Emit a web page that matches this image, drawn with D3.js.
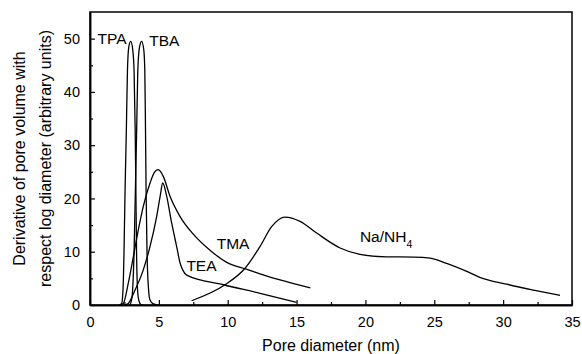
<!DOCTYPE html>
<html><head><meta charset="utf-8">
<script src="https://cdn.jsdelivr.net/npm/d3@7"></script>
<style>body{margin:0;background:#fff}svg{display:block;font-family:"Liberation Sans",Arial,sans-serif}</style>
</head><body><svg id="c" width="582" height="354"></svg>
<script>
const xTicks = [0,5,10,15,20,25,30,35];
const yTicks = [0,10,20,30,40,50];
const tpa = [[2.15,0],[2.3,0.3],[2.4,3],[2.47,10],[2.55,22],[2.64,33],[2.72,44],[2.82,48.5],[2.96,49.5],[3.1,48],[3.2,44],[3.28,33],[3.33,22],[3.38,10],[3.45,3],[3.55,0.8],[3.7,0.1],[3.85,0]];
const tba = [[2.85,0],[2.98,0.5],[3.1,3],[3.2,10],[3.3,22],[3.39,33],[3.47,44],[3.6,48.5],[3.75,49.5],[3.9,48],[3.98,44],[4.03,33],[4.07,22],[4.14,10],[4.25,3],[4.35,1],[4.6,0.2],[4.9,0]];
const tma = [[2.15,0],[2.42,0.3],[2.78,4.1],[3.15,9.1],[3.51,14.1],[3.87,18.5],[4.36,22.9],[4.7,25],[4.95,25.4],[5.33,24.1],[5.81,20.4],[6.54,16.6],[7.5,13.3],[8.8,10.1],[9.93,8.0],[11.4,6.7],[12.4,5.8],[13.8,4.7],[16.0,3.2]];
const tea = [[2.5,0],[2.78,0.3],[3.27,2.8],[3.87,6.6],[4.36,11.0],[4.84,16.6],[5.1,20.5],[5.28,22.9],[5.57,20.4],[5.93,15.4],[6.29,11.0],[6.55,7.8],[6.75,6.5],[7.02,5.6],[9.68,3.8],[12.35,2.2],[15.0,0.5]];
const nanh4 = [[7.38,0.8],[9.8,3.8],[11.26,6.9],[12.35,11.0],[13.19,14.7],[14.16,16.5],[15.25,15.7],[16.46,13.5],[18.16,10.7],[19.6,9.5],[21.5,9.05],[23.5,9.0],[24.7,8.8],[25.9,7.8],[27.36,6.3],[28.3,5.2],[30.26,3.9],[32.2,2.8],[34.13,1.8]];
const seriesLabels = [
  {t:"TPA", x:0.55, y:49.0},
  {t:"TBA", x:4.3, y:48.6},
  {t:"TMA", x:9.2, y:10.6},
  {t:"TEA", x:7.0, y:6.4},
  {t:"Na/NH", sub:"4", x:19.6, y:11.9}
];

const svg = d3.select("#c");
const L=90, R=572, T=12, B=305;
const x = d3.scaleLinear().domain([0,35]).range([L,R]);
const y = d3.scaleLinear().domain([0,55]).range([B,T]);

svg.append("rect").attr("x",L).attr("y",T).attr("width",R-L).attr("height",B-T)
  .attr("fill","none").attr("stroke","#000").attr("stroke-width",1.5);

const xa = svg.append("g").attr("transform",`translate(0,${B})`)
  .call(d3.axisBottom(x).tickValues(xTicks).tickSizeInner(-5).tickSizeOuter(0).tickPadding(12));
const xm = svg.append("g").attr("transform",`translate(0,${B})`)
  .call(d3.axisBottom(x).tickValues(d3.range(2.5,35,5)).tickSizeInner(-3).tickSizeOuter(0).tickFormat(""));
const ya = svg.append("g").attr("transform",`translate(${L},0)`)
  .call(d3.axisLeft(y).tickValues(yTicks).tickSizeInner(-5).tickSizeOuter(0).tickPadding(10));
const ym = svg.append("g").attr("transform",`translate(${L},0)`)
  .call(d3.axisLeft(y).tickValues(d3.range(5,55,10)).tickSizeInner(-3).tickSizeOuter(0).tickFormat(""));
[xa,xm,ya,ym].forEach(g=>{
  g.select(".domain").attr("stroke","#000").attr("stroke-width",1.5);
  g.selectAll(".tick line").attr("stroke","#000").attr("stroke-width",1.2);
  g.selectAll(".tick text").attr("font-size",14.5).attr("fill","#000").attr("font-family","Liberation Sans, Arial, sans-serif");
});

const line = d3.line().x(d=>x(d[0])).y(d=>y(d[1])).curve(d3.curveMonotoneX);
[tpa,tba,tma,tea,nanh4].forEach(s=>{
  svg.append("path").attr("d",line(s)).attr("fill","none").attr("stroke","#000").attr("stroke-width",1.3);
});

seriesLabels.forEach(l=>{
  const t = svg.append("text").attr("x",x(l.x)).attr("y",y(l.y)).attr("font-size",15.5).attr("fill","#000").text(l.t);
  if(l.sub) t.append("tspan").attr("font-size",10.5).attr("dy",6).text(l.sub);
});

svg.append("text").attr("x",(L+R)/2).attr("y",351).attr("text-anchor","middle").attr("font-size",16).text("Pore diameter (nm)");
svg.append("text").attr("transform",`translate(25,${(T+B)/2}) rotate(-90)`).attr("text-anchor","middle").attr("font-size",16).text("Derivative of pore volume with");
svg.append("text").attr("transform",`translate(51,${(T+B)/2}) rotate(-90)`).attr("text-anchor","middle").attr("font-size",16).text("respect log diameter (arbitrary units)");
</script></body></html>
